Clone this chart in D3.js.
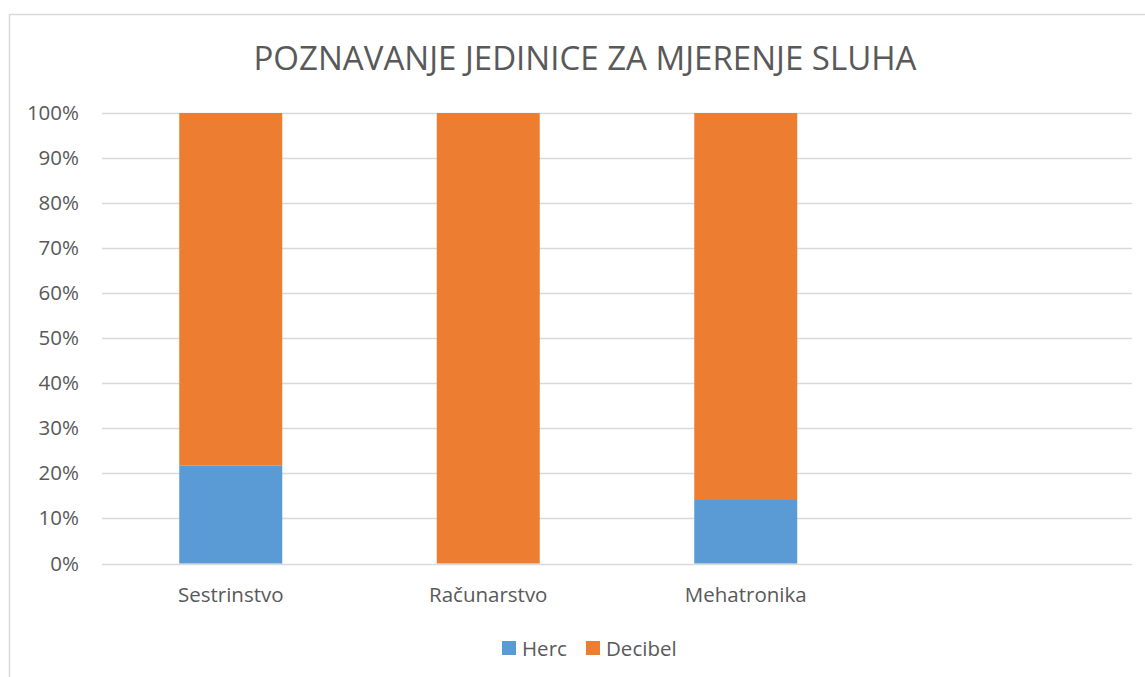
<!DOCTYPE html>
<html>
<head>
<meta charset="utf-8">
<script src="https://cdn.jsdelivr.net/npm/d3@7"></script>
<style>
  body { margin: 0; background: #fff; }
  text { font-family: "Open Sans", sans-serif; fill: #595959; }
</style>
</head>
<body>
<script>
// data (percent)
const categories = ["Sestrinstvo", "Računarstvo", "Mehatronika", ""];
const herc = [21.7, 0, 14.3, 0];
const decibel = [78.3, 100, 85.7, 0];
const seriesNames = ["Herc", "Decibel"];
const seriesColors = ["#5b9bd5", "#ed7d31"];
const yTicks = [0, 10, 20, 30, 40, 50, 60, 70, 80, 90, 100];

const W = 1145, H = 677;
const svg = d3.select("body").append("svg").attr("width", W).attr("height", H);

// chart frame
svg.append("rect")
    .attr("x", 9.5).attr("y", 14.5)
    .attr("width", W + 20).attr("height", H + 20)
    .attr("fill", "none").attr("stroke", "#d9d9d9").attr("stroke-width", 1.5);

const x = d3.scaleBand().domain(categories).range([102, 1132]).paddingInner(0.6).paddingOuter(0.3);
const y = d3.scaleLinear().domain([0, 100]).range([563.5, 113]);

// gridlines
svg.selectAll("line.grid").data(yTicks).enter().append("line")
    .attr("class", "grid")
    .attr("x1", 102).attr("x2", 1132)
    .attr("y1", d => Math.round(y(d)) + 0.5).attr("y2", d => Math.round(y(d)) + 0.5)
    .attr("stroke", "#d9d9d9").attr("stroke-width", 1.5);

// y labels
svg.selectAll("text.ytick").data(yTicks).enter().append("text")
    .attr("class", "ytick")
    .attr("x", 79).attr("y", d => y(d) + 7)
    .attr("text-anchor", "end")
    .style("font-size", "20.5px")
    .text(d => d + "%");

// stacked bars
const rows = categories.map((c, i) => ({ cat: c, Herc: herc[i], Decibel: decibel[i] }));
const stacked = d3.stack().keys(seriesNames)(rows);

svg.selectAll("g.series").data(stacked).enter().append("g")
    .attr("class", "series")
    .attr("fill", (d, i) => seriesColors[i])
    .selectAll("rect").data(d => d).enter().append("rect")
    .attr("x", d => x(d.data.cat))
    .attr("width", x.bandwidth())
    .attr("y", d => y(d[1]))
    .attr("height", d => y(d[0]) - y(d[1]));

// x labels
svg.selectAll("text.xtick").data(categories).enter().append("text")
    .attr("class", "xtick")
    .attr("x", d => x(d) + x.bandwidth() / 2)
    .attr("y", 602)
    .attr("text-anchor", "middle")
    .style("font-size", "20.5px")
    .text(d => d);

// title
svg.append("text")
    .attr("x", 585).attr("y", 70)
    .attr("text-anchor", "middle")
    .attr("textLength", 663).attr("lengthAdjust", "spacingAndGlyphs")
    .style("font-size", "32px")
    .text("POZNAVANJE JEDINICE ZA MJERENJE SLUHA");

// legend
const legX = [502, 586];
const leg = svg.selectAll("g.legend").data(seriesNames).enter().append("g")
    .attr("class", "legend")
    .attr("transform", (d, i) => `translate(${legX[i]},641)`);
leg.append("rect").attr("width", 14).attr("height", 14).attr("fill", (d, i) => seriesColors[i]);
leg.append("text").attr("x", 20).attr("y", 14.5).style("font-size", "20.5px").text(d => d);
</script>
</body>
</html>
